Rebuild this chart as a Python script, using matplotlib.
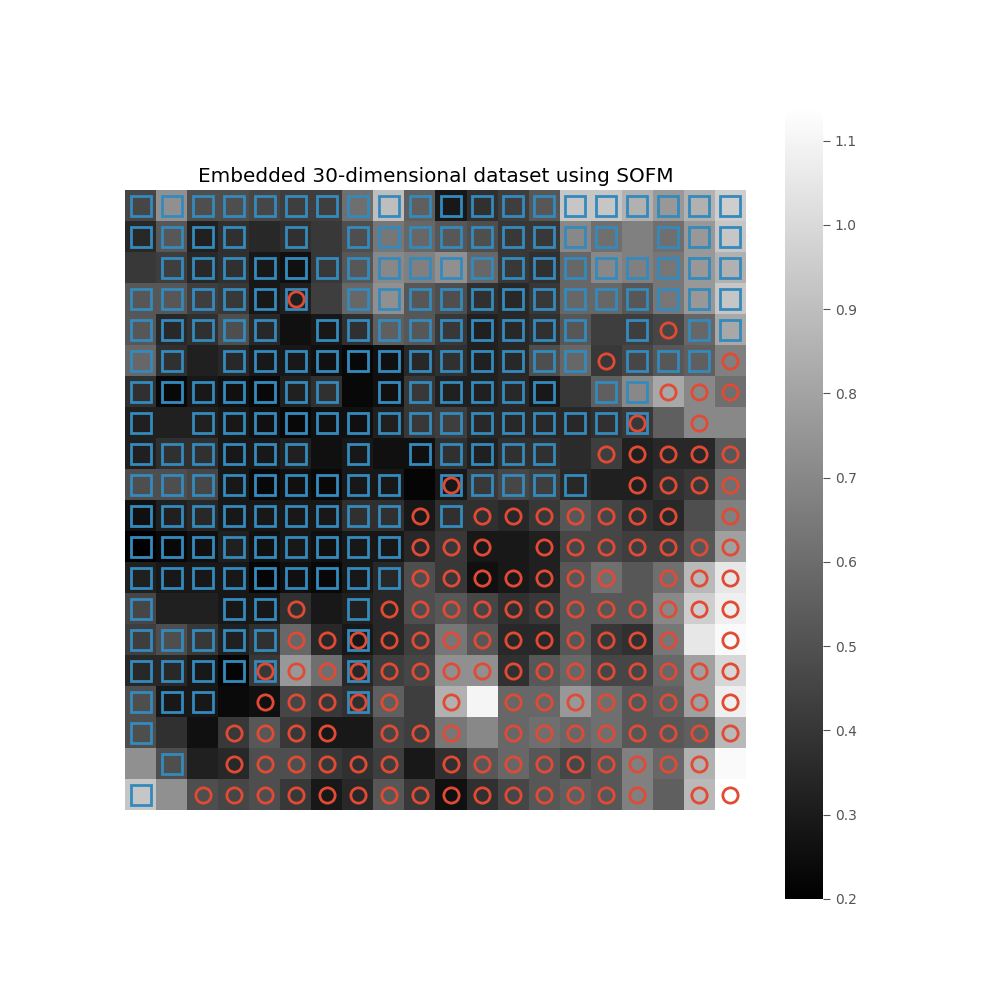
import numpy as np
import matplotlib
matplotlib.use("Agg")
import matplotlib.pyplot as plt

plt.style.use("ggplot")

title = "Embedded 30-dimensional dataset using SOFM"

# distance map, row by row (top row first)
heat = [
    [0.46, 0.73, 0.49, 0.49, 0.46, 0.43, 0.43, 0.61, 0.90, 0.55, 0.29, 0.38, 0.43, 0.52, 0.93, 0.93, 0.85, 0.76, 0.85, 0.96],
    [0.35, 0.52, 0.32, 0.38, 0.35, 0.38, 0.41, 0.49, 0.64, 0.58, 0.52, 0.49, 0.41, 0.41, 0.70, 0.61, 0.67, 0.61, 0.76, 0.93],
    [0.41, 0.43, 0.35, 0.38, 0.29, 0.26, 0.41, 0.52, 0.70, 0.67, 0.73, 0.58, 0.41, 0.38, 0.58, 0.70, 0.67, 0.64, 0.76, 0.85],
    [0.52, 0.52, 0.43, 0.41, 0.29, 0.32, 0.43, 0.58, 0.73, 0.52, 0.49, 0.38, 0.35, 0.41, 0.58, 0.58, 0.52, 0.64, 0.76, 0.93],
    [0.52, 0.35, 0.38, 0.49, 0.35, 0.26, 0.29, 0.38, 0.55, 0.52, 0.41, 0.32, 0.35, 0.38, 0.52, 0.43, 0.43, 0.46, 0.58, 0.82],
    [0.58, 0.38, 0.32, 0.35, 0.29, 0.29, 0.26, 0.23, 0.26, 0.35, 0.38, 0.32, 0.35, 0.49, 0.58, 0.41, 0.46, 0.52, 0.55, 0.67],
    [0.38, 0.23, 0.29, 0.26, 0.23, 0.32, 0.38, 0.23, 0.26, 0.41, 0.32, 0.32, 0.35, 0.29, 0.41, 0.55, 0.70, 0.82, 0.70, 0.61],
    [0.32, 0.32, 0.32, 0.29, 0.26, 0.23, 0.26, 0.26, 0.32, 0.41, 0.43, 0.35, 0.35, 0.35, 0.35, 0.38, 0.41, 0.55, 0.70, 0.70],
    [0.32, 0.38, 0.38, 0.29, 0.29, 0.32, 0.26, 0.29, 0.26, 0.26, 0.38, 0.32, 0.38, 0.38, 0.36, 0.43, 0.32, 0.35, 0.35, 0.52],
    [0.49, 0.49, 0.46, 0.29, 0.23, 0.26, 0.23, 0.29, 0.29, 0.22, 0.29, 0.41, 0.46, 0.43, 0.35, 0.32, 0.32, 0.38, 0.41, 0.61],
    [0.26, 0.32, 0.35, 0.29, 0.29, 0.29, 0.29, 0.38, 0.38, 0.29, 0.38, 0.38, 0.35, 0.41, 0.52, 0.46, 0.38, 0.35, 0.49, 0.67],
    [0.20, 0.23, 0.26, 0.32, 0.26, 0.29, 0.26, 0.29, 0.29, 0.35, 0.41, 0.29, 0.29, 0.32, 0.46, 0.46, 0.43, 0.43, 0.52, 0.79],
    [0.32, 0.29, 0.29, 0.29, 0.22, 0.26, 0.23, 0.29, 0.35, 0.49, 0.41, 0.26, 0.29, 0.32, 0.52, 0.61, 0.52, 0.61, 0.88, 1.05],
    [0.46, 0.32, 0.32, 0.29, 0.29, 0.38, 0.29, 0.32, 0.35, 0.49, 0.52, 0.46, 0.38, 0.41, 0.52, 0.52, 0.52, 0.70, 0.96, 1.08],
    [0.43, 0.49, 0.41, 0.32, 0.38, 0.58, 0.35, 0.29, 0.35, 0.43, 0.64, 0.52, 0.35, 0.35, 0.52, 0.41, 0.38, 0.64, 1.05, 1.12],
    [0.35, 0.35, 0.29, 0.22, 0.41, 0.76, 0.61, 0.35, 0.43, 0.46, 0.73, 0.73, 0.38, 0.52, 0.58, 0.46, 0.46, 0.58, 0.79, 0.99],
    [0.49, 0.29, 0.29, 0.24, 0.26, 0.46, 0.41, 0.38, 0.55, 0.43, 0.85, 1.10, 0.58, 0.58, 0.76, 0.61, 0.52, 0.55, 0.79, 1.08],
    [0.49, 0.38, 0.26, 0.41, 0.52, 0.41, 0.29, 0.29, 0.46, 0.43, 0.64, 0.70, 0.58, 0.61, 0.58, 0.61, 0.52, 0.52, 0.55, 0.88],
    [0.73, 0.49, 0.32, 0.35, 0.49, 0.49, 0.41, 0.38, 0.43, 0.29, 0.38, 0.52, 0.58, 0.52, 0.46, 0.52, 0.67, 0.58, 0.85, 1.12],
    [0.93, 0.73, 0.49, 0.46, 0.49, 0.41, 0.29, 0.35, 0.52, 0.41, 0.26, 0.38, 0.46, 0.52, 0.55, 0.52, 0.67, 0.55, 0.88, 1.14],
]

# which class landed in each cell: s = class 0, o = class 1, b = both, . = empty
hits = [
    "ssssssssssssssssssss",
    "ssss.s.sssssssss.sss",
    ".sssssssssssssssssss",
    "sssssb.sssssssssssss",
    "sssss.sssssssss.soss",
    "ss.ssssssssssssossso",
    "sssssss.ssssss.ssooo",
    "s.ssssssssssssssb.o.",
    "ssssss.s.sssss.ooooo",
    "sssssssss.bssss.oooo",
    "sssssssssosooooooo.o",
    "sssssssssooo.ooooooo",
    "sssssssssooooooo.ooo",
    "s..sso.soooooooooooo",
    "sssssooboooooooooo.o",
    "ssssbooboooooooooooo",
    "sss.ooobo.o.oooooooo",
    "s..oooo.ooo.oooooooo",
    ".s.oooooo.ooooooooo.",
    "s.ooooooooooooooo.oo",
]

heat = np.array(heat)

fig = plt.figure(figsize=(10, 10), dpi=100)
ax = fig.add_axes([0.125, 0.19, 0.621, 0.62])
im = ax.imshow(heat, cmap="gray", interpolation="nearest", aspect="auto",
               vmin=heat.min(), vmax=heat.max())

sq_x, sq_y, ci_x, ci_y = [], [], [], []
for r, row in enumerate(hits):
    for c, ch in enumerate(row):
        if ch in "sb":
            sq_x.append(c); sq_y.append(r)
        if ch in "ob":
            ci_x.append(c); ci_y.append(r)

ax.plot(sq_x, sq_y, "s", markersize=14, markeredgewidth=2,
        markerfacecolor="None", markeredgecolor="#348ABD", linestyle="None")
ax.plot(ci_x, ci_y, "o", markersize=11, markeredgewidth=2,
        markerfacecolor="None", markeredgecolor="#E24A33", linestyle="None")
ax.set_xlim(-0.5, 19.5)
ax.set_ylim(19.5, -0.5)
ax.axis("off")
ax.set_title(title, fontsize=14.4)

cax = fig.add_axes([0.785, 0.101, 0.038, 0.792])
cb = fig.colorbar(im, cax=cax)
cb.set_ticks([0.2, 0.3, 0.4, 0.5, 0.6, 0.7, 0.8, 0.9, 1.0, 1.1])
cb.outline.set_visible(False)
cax.tick_params(axis="y", colors="#555555", length=5, direction="out", labelsize=10)

fig.savefig("out.png", dpi=100)
